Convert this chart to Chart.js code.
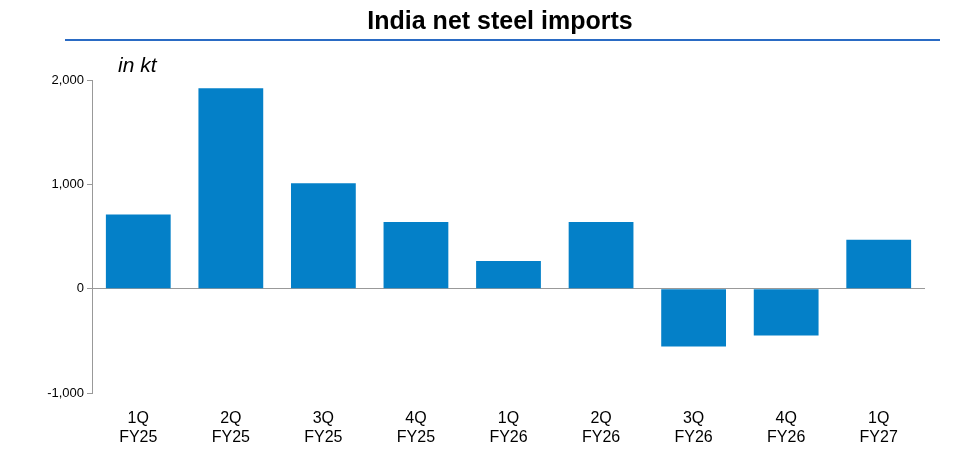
<!DOCTYPE html>
<html><head><meta charset="utf-8">
<script src="https://cdn.jsdelivr.net/npm/chart.js@4/dist/chart.umd.min.js"></script>
<style>
body{margin:0;background:#fff;font-family:"Liberation Sans",Arial,sans-serif;}
#wrap{position:relative;width:970px;height:463px;}
#title{position:absolute;left:0;width:1000px;top:6px;text-align:center;font-weight:bold;font-size:25px;color:#000;}
#rule{position:absolute;left:65px;top:39px;width:875px;height:2px;background:#2a6bc4;}
#unit{position:absolute;left:118px;top:53px;font-style:italic;font-size:21px;color:#000;}
canvas{position:absolute;left:0;top:0;}
</style></head><body>
<div id="wrap">
<canvas id="c" width="970" height="463"></canvas>
<div id="title">India net steel imports</div>
<div id="rule"></div>
<div id="unit">in kt</div>
</div>
<script>
const categories=[["1Q","FY25"],["2Q","FY25"],["3Q","FY25"],["4Q","FY25"],["1Q","FY26"],["2Q","FY26"],["3Q","FY26"],["4Q","FY26"],["1Q","FY27"]];
const netImports=[710,1920,1010,640,265,640,-555,-450,470];
const yTicks=[-1000,0,1000,2000];
new Chart(document.getElementById('c'),{
 type:'bar',
 data:{labels:categories,datasets:[{data:netImports,backgroundColor:'#0480c8',categoryPercentage:0.7,barPercentage:1}]},
 options:{responsive:false,animation:false,
  layout:{padding:{top:80,right:45,left:0,bottom:0}},
  plugins:{legend:{display:false},tooltip:{enabled:false}},
  scales:{
   x:{grid:{display:false},border:{display:false},
      ticks:{color:'#000',font:{size:16,family:'Liberation Sans'},padding:8},
      afterFit:s=>{s.height=70;}},
   y:{min:-1000,max:2000,
      afterBuildTicks:s=>{s.ticks=yTicks.map(v=>({value:v}));},
      afterFit:s=>{s.width=92;},
      border:{color:'#999'},
      grid:{color:c=>c.tick&&c.tick.value===0?'#999':'transparent',tickColor:'#999',tickLength:5},
      ticks:{color:'#000',font:{size:13,family:'Liberation Sans'},callback:v=>v.toLocaleString('en-US')}}
  }}
});
</script>
</body></html>
